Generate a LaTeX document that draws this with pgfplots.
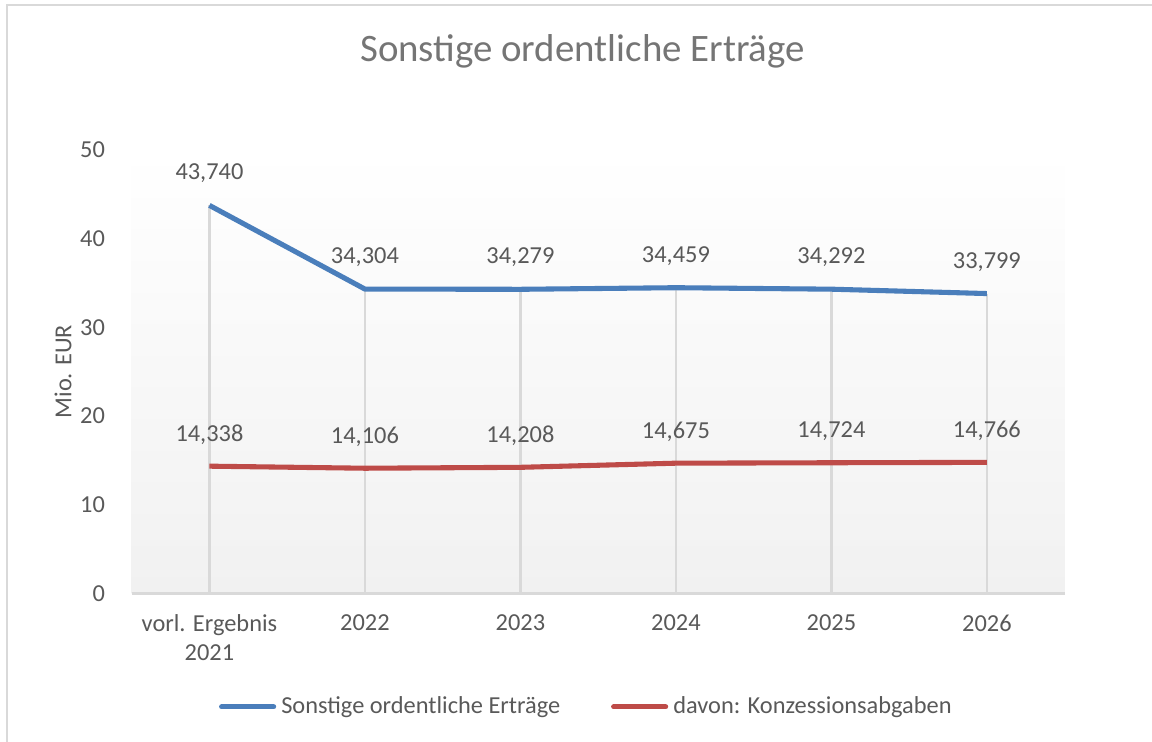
\documentclass[border=0pt]{standalone}
\usepackage{pgfplots}
\pgfplotsset{compat=1.18}
\usepackage{fontspec}
\setmainfont{Carlito}
\usetikzlibrary{shadings}

\definecolor{serblue}{HTML}{4A7EBB}
\definecolor{serred}{HTML}{BE4B48}
\definecolor{txtgray}{HTML}{595959}
\definecolor{ttlgray}{HTML}{757575}
\definecolor{gridgray}{HTML}{D9D9D9}

\newcommand{\lblfont}{\fontsize{9.6}{11.4}\selectfont}

\begin{document}
\begin{tikzpicture}
  \useasboundingbox (-51.85pt,-58.46pt) rectangle (401.69pt,233.6pt);
  \draw[gridgray, line width=0.8pt] (-49pt,-60pt) -- (-49pt,231.8pt) -- (402pt,231.8pt);
  \begin{axis}[
    at={(0,0)}, anchor=south west,
    scale only axis,
    width=367.3pt,
    height=174.6pt,
    xmin=-0.5, xmax=5.5,
    ymin=0, ymax=50,
    xtick={0,1,2,3,4,5},
    xticklabels={{vorl. Ergebnis\\2021},2022,2023,2024,2025,2026},
    xticklabel style={align=center, font=\lblfont, text=txtgray},
    ytick={0,10,20,30,40,50},
    yticklabel style={font=\lblfont, text=txtgray},
    /pgf/number format/assume math mode=true,
    major tick length=0pt,
    axis x line*=bottom,
    axis y line*=left,
    x axis line style={draw=gridgray, line width=1pt, -},
    y axis line style={draw=none},
    xtick pos=bottom,
    xticklabel shift=5pt,
    yticklabel shift=7pt,
    ylabel={Mio. EUR},
    every axis y label/.style={at={(axis description cs:0,0.5)}, rotate=90, anchor=center, yshift=27pt, font=\lblfont, text=txtgray},
    axis background/.style={shade, top color=white, bottom color=gray!11},
    clip=false,
    legend style={at={(0.489,-0.256)}, anchor=center, draw=none, fill=none,
      legend columns=2, font=\lblfont, text=txtgray,
      /tikz/every even column/.append style={column sep=18pt},
      /tikz/inner sep=0pt},
    legend cell align=left,
    legend image code/.code={\draw[#1, line cap=round] (0pt,0pt) -- (20.5pt,0pt);},
    nodes near coords,
    point meta=explicit symbolic,
    every node near coord/.style={anchor=center, yshift=12.5pt, font=\lblfont, text=txtgray},
  ]
    \addplot[ycomb, gridgray, line width=0.9pt, forget plot, nodes near coords={}] coordinates {
      (0,43.740) (1,34.304) (2,34.279) (3,34.459) (4,34.292) (5,33.799)
    };
    \addplot[serblue, line width=2pt, line join=round] coordinates {
      (0,43.740) [43,740] (1,34.304) [34,304] (2,34.279) [34,279]
      (3,34.459) [34,459] (4,34.292) [34,292] (5,33.799) [33,799]
    };
    \addplot[serred, line width=2pt, line join=round] coordinates {
      (0,14.338) [14,338] (1,14.106) [14,106] (2,14.208) [14,208]
      (3,14.675) [14,675] (4,14.724) [14,724] (5,14.766) [14,766]
    };
    \legend{Sonstige ordentliche Erträge, davon: Konzessionsabgaben}
  \end{axis}
  \node[font=\fontsize{15.3}{18}\selectfont, text=ttlgray, anchor=base] at (177.5pt,209.5pt) {Sonstige ordentliche Erträge};
\end{tikzpicture}
\end{document}
